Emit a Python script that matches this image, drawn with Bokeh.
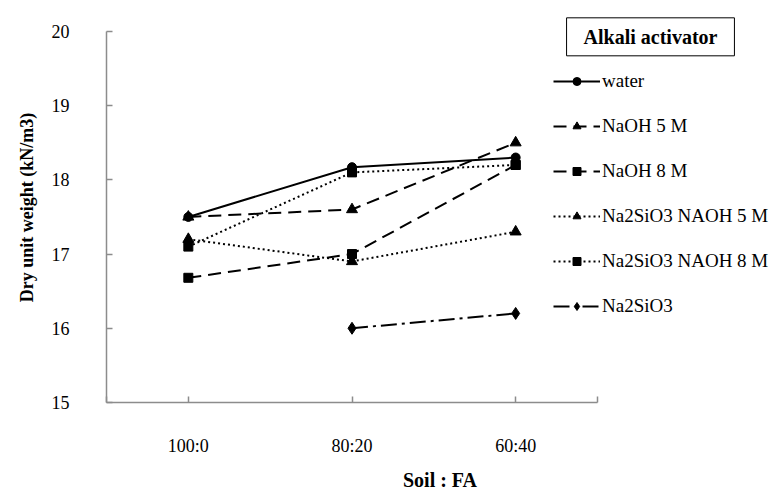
from bokeh.plotting import figure
from bokeh.models import (Range1d, FixedTicker, Legend, LegendItem, Label, Title)
from bokeh.embed import file_html
from bokeh.resources import INLINE

categories = ["100:0", "80:20", "60:40"]
water = [17.5, 18.17, 18.3]
naoh_5m = [17.5, 17.6, 18.5]
naoh_8m = [16.68, 17.0, 18.2]
na2sio3_naoh_5m = [17.2, 16.9, 17.3]
na2sio3_naoh_8m = [17.1, 18.1, 18.2]
na2sio3 = [float("nan"), 16.0, 16.2]
y_ticks = [15, 16, 17, 18, 19, 20]

series = [
    ("water", water, "solid", "circle", 9),
    ("NaOH 5 M", naoh_5m, "13 7", "triangle", 11),
    ("NaOH 8 M", naoh_8m, "13 7", "square", 9),
    ("Na2SiO3 NAOH 5 M", na2sio3_naoh_5m, "2 3", "triangle", 11),
    ("Na2SiO3 NAOH 8 M", na2sio3_naoh_8m, "2 3", "square", 9),
    ("Na2SiO3", na2sio3, "16 5 3 5", "diamond", 12),
]

xs = list(range(len(categories)))
FONT = "'Liberation Serif', 'Times New Roman', serif"
AXIS_COLOR = "#8c8c8c"

# pixel layout (axis spans 106..597 horizontally, 31..405 vertically)
W, H = 773, 493
AX_LEFT, AX_RIGHT, AX_TOP, AX_BOTTOM = 106, 597, 31, 405
FRAME_TOP = 12
x_lo, x_hi = -0.5, len(categories) - 0.5
y_lo, y_hi = y_ticks[0], y_ticks[-1]
px_x = (AX_RIGHT - AX_LEFT) / (x_hi - x_lo)
px_y = (AX_BOTTOM - AX_TOP) / (y_hi - y_lo)
x_end = x_lo + (W - AX_LEFT) / px_x
y_end = y_hi + (AX_TOP - FRAME_TOP) / px_y

p = figure(width=W, height=H, output_backend="svg", toolbar_location=None,
           x_range=Range1d(x_lo, x_end), y_range=Range1d(y_lo, y_end),
           min_border_left=AX_LEFT, min_border_right=0, min_border_top=FRAME_TOP,
           min_border_bottom=H - AX_BOTTOM)
p.outline_line_color = None
p.xgrid.grid_line_color = None
p.ygrid.grid_line_color = None
p.background_fill_color = "white"
p.border_fill_color = "white"

# axes
p.xaxis.ticker = FixedTicker(ticks=[x_lo] + xs + [x_hi])
overrides = {x: c for x, c in zip(xs, categories)}
overrides[x_lo] = ""
overrides[x_hi] = ""
p.xaxis.major_label_overrides = overrides
p.xaxis.bounds = (x_lo, x_hi)
p.yaxis.ticker = FixedTicker(ticks=y_ticks)
p.yaxis.bounds = (y_lo, y_hi)
for ax in (p.xaxis[0], p.yaxis[0]):
    ax.axis_line_color = AXIS_COLOR
    ax.axis_line_width = 1.5
    ax.major_tick_line_color = AXIS_COLOR
    ax.major_tick_line_width = 1.5
    ax.major_tick_in = 6
    ax.major_tick_out = 0
    ax.minor_tick_line_color = None
    ax.major_label_text_font = FONT
    ax.major_label_text_font_size = "18px"
    ax.major_label_text_color = "black"
    ax.axis_label_text_font = FONT
    ax.axis_label_text_font_style = "bold"
    ax.axis_label_text_color = "black"
p.xaxis.axis_label = "Soil : FA"
p.xaxis.axis_label_text_font_size = "20px"
p.xaxis.major_label_standoff = 33
p.xaxis.axis_label_standoff = 10
p.yaxis.major_label_standoff = 37

# y-axis title as a side title so it can be centred on the axis span
ytitle = Title(text="Dry unit weight (kN/m3)", align="center",
               offset=-25, standoff=24,
               text_font=FONT, text_font_style="bold",
               text_font_size="18px", text_color="black")
p.add_layout(ytitle, "left")

items = []
for name, vals, dash, marker, size in series:
    r1 = p.line(xs, vals, line_color="black", line_width=2, line_dash=dash)
    r2 = p.scatter(xs, vals, marker=marker, size=size, fill_color="black",
                   line_color="black")
    items.append(LegendItem(label=name, renderers=[r1, r2]))

legend = Legend(items=items, location=(447, 85), orientation="vertical",
                glyph_width=47, glyph_height=20, label_height=20,
                spacing=23, padding=0, margin=0, label_standoff=2,
                label_text_font=FONT, label_text_font_size="19px",
                label_text_color="black",
                border_line_color=None, background_fill_alpha=0)
p.add_layout(legend, "center")

title = Label(x=x_lo + (650 - AX_LEFT) / px_x, y=y_lo + (AX_BOTTOM - 36.5) / px_y,
              text="Alkali activator", text_align="center",
              text_baseline="middle", text_font=FONT, text_font_style="bold",
              text_font_size="20px", text_color="black",
              border_line_color="black", border_line_width=1,
              background_fill_color="white",
              padding=dict(left=17, right=17, top=8, bottom=8))
p.add_layout(title)

open("out.html", "w").write(file_html(p, INLINE))
